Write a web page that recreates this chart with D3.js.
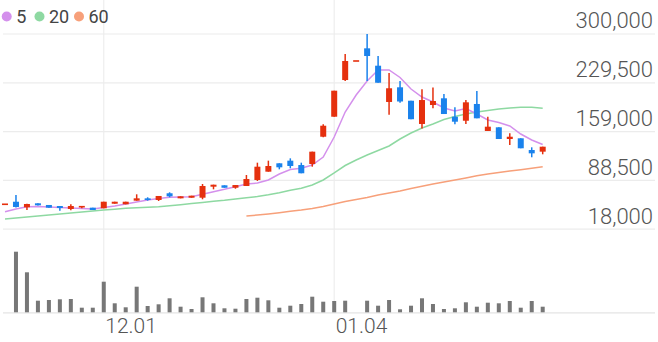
<!DOCTYPE html>
<html><head><meta charset="utf-8">
<script src="https://cdn.jsdelivr.net/npm/d3@7"></script>
<style>
html,body{margin:0;padding:0;background:#fff;}
svg{display:block;}
</style></head>
<body>
<svg id="chart" width="658" height="342"></svg>
<script>
const dates = ["11.20","11.21","11.22","11.23","11.24","11.27","11.28","11.29","11.30",
"12.01","12.04","12.05","12.06","12.07","12.08","12.11","12.12","12.13","12.14","12.15",
"12.18","12.19","12.20","12.21","12.22","12.26","12.27","12.28","01.02","01.03",
"01.04","01.05","01.08","01.09","01.10","01.11","01.12","01.15","01.16","01.17",
"01.18","01.19","01.22","01.23","01.24","01.25","01.26","01.29","01.30","01.31"];
const open  = [54000,57700,49600,55400,53000,51500,47200,48600,49100,48200,
54800,54000,59200,62600,60200,69900,62600,63500,63500,79400,
81400,77900,80400,89100,101100,113200,117000,110700,112200,151600,
180500,233500,261000,279300,254200,201800,223000,203600,170000,197400,
207100,180500,174700,198900,159900,165200,148300,149300,132400,130000];
const high  = [54000,67400,54600,55600,53000,51500,54000,50700,49100,57700,
57700,57700,68400,64100,66000,71300,65500,66400,83300,82300,
81400,81800,96300,114100,117000,113200,120400,114100,130000,169500,
218100,271100,261000,300000,268200,243700,232100,203600,220100,222700,
213300,194100,204600,217700,180500,165200,156500,149300,136300,137200];
const low   = [54000,49400,45700,52300,49100,44700,45300,48300,45700,48200,
54800,54000,59200,59200,58700,64100,62600,63500,61200,75600,
77900,76500,80400,87600,101100,104500,106000,98800,108300,150800,
180500,232100,261000,232100,229600,183400,200700,176900,163500,192700,
184400,169500,170000,178200,159900,148300,139600,134900,121900,126200];
const close = [54000,50100,54400,52500,49100,48600,51500,50500,45700,57700,
57700,57700,62600,60200,66000,65500,65500,66400,80400,82300,
77900,81800,90500,108300,109300,107400,109300,98800,130000,167500,
218100,261000,261000,268200,229600,221600,202500,176900,204600,203200,
184400,173300,201300,178200,166100,148300,151600,134900,127600,137200];
const volume = [0,606000,400000,116000,123000,130000,133000,46000,46000,306000,
90000,50000,256000,63000,80000,140000,56000,33000,150000,90000,
40000,36000,133000,146000,120000,46000,66000,83000,156000,106000,
113000,116000,0,116000,66000,123000,30000,66000,140000,83000,
33000,40000,100000,56000,96000,90000,113000,46000,113000,56000];
const ma5 = [43300,47200,50500,50800,50100,49400,48600,47900,47200,49400,
51500,54400,57300,60200,62400,64100,64500,64900,68400,72200,
75600,79400,83300,84700,89100,97700,104200,106000,110700,122300,
151200,187300,211900,232100,248000,248000,237200,220500,209000,201800,
193100,188800,192400,184400,175800,172100,167100,155500,146900,140400];
const ma20 = [32700,34200,35600,37100,38500,40000,41400,42800,44300,45700,
46900,48200,48900,49600,50500,51900,53400,55100,56600,58300,
59700,61600,63400,65200,67700,70700,74200,77100,81800,89100,
99200,110000,118000,125200,131700,138200,148300,157000,164200,170000,
176500,180800,184400,187300,189500,191600,193100,194100,194100,192700];
const ma60 = [null,null,null,null,null,null,null,null,null,null,
null,null,null,null,null,null,null,null,null,null,
null,null,37100,38500,40000,41800,43900,45700,47900,50800,
54400,58100,60900,63800,67400,70300,73200,76800,80000,83300,
86200,89100,92000,95100,97700,99900,102100,104000,106100,108300];
const yTicks = [18000, 88500, 159000, 229500, 300000];
const xTickLabels = ["12.01", "01.04"];
const legendLabels = ["5", "20", "60"];
const legendColors = ["#d490ec", "#8ed9a2", "#f7a07a"];

const svg = d3.select("#chart");
const x = d3.scalePoint().domain(dates).range([5, 542.7]);
const y = d3.scaleLinear().domain([18000, 300000]).range([229.2, 34]);
const yv = d3.scaleLinear().domain([0, 620000]).range([312.3, 250.3]);
const up = "#e5300e", down = "#1a82ec";
const font = "Roboto, 'Noto Sans', sans-serif";

// horizontal grid + y labels
const yAxis = d3.axisRight(y).tickValues(yTicks).tickSize(0).tickFormat(d3.format(","));
const gy = svg.append("g").attr("transform", "translate(653,0)").call(yAxis);
gy.select(".domain").remove();
gy.selectAll("text").attr("x", 0).attr("dy", "-0.28em").attr("text-anchor", "end")
  .attr("font-family", font).attr("font-weight", 300).attr("font-size", 22).attr("fill", "#555");
svg.insert("g", ":first-child").selectAll("line").data(yTicks).join("line")
  .attr("x1", 3).attr("x2", 655).attr("y1", d => y(d)).attr("y2", d => y(d))
  .attr("stroke", "#ececec").attr("stroke-width", 1.2);

// vertical grid + x labels
const xAxis = d3.axisBottom(x).tickValues(xTickLabels).tickSize(0);
const gx = svg.append("g").attr("transform", "translate(0,318)").call(xAxis);
gx.select(".domain").remove();
gx.selectAll("text").attr("y", 0).attr("dy", "0.71em").attr("text-anchor", "start").attr("x", 1)
  .attr("font-family", font).attr("font-weight", 300).attr("font-size", 21).attr("fill", "#555");
svg.insert("g", ":first-child").selectAll("line").data(xTickLabels).join("line")
  .attr("x1", d => x(d)).attr("x2", d => x(d)).attr("y1", 0).attr("y2", 312)
  .attr("stroke", "#eeeeee").attr("stroke-width", 1.2);

// volume baseline
svg.append("line").attr("x1", 3).attr("x2", 655).attr("y1", 312.8).attr("y2", 312.8)
  .attr("stroke", "#e4e4e4").attr("stroke-width", 1.2);

// volume bars
svg.append("g").selectAll("rect").data(dates).join("rect")
  .attr("x", d => x(d) - 2).attr("width", 4)
  .attr("y", (d, i) => yv(volume[i])).attr("height", (d, i) => yv(0) - yv(volume[i]))
  .attr("fill", "#777");

// MA lines
function maLine(arr, color) {
  const line = d3.line().defined(d => d[1] != null).x(d => x(d[0])).y(d => y(d[1]));
  svg.append("path").datum(dates.map((d, i) => [d, arr[i]]))
    .attr("d", line).attr("fill", "none").attr("stroke", color).attr("stroke-width", 1.5);
}
maLine(ma60, legendColors[2]);
maLine(ma20, legendColors[1]);
maLine(ma5, legendColors[0]);

// candles
const cg = svg.append("g").selectAll("g").data(dates).join("g");
cg.append("line")
  .attr("x1", d => x(d)).attr("x2", d => x(d))
  .attr("y1", (d, i) => y(high[i])).attr("y2", (d, i) => y(low[i]))
  .attr("stroke", (d, i) => close[i] >= open[i] ? up : down).attr("stroke-width", 1.5);
cg.append("rect")
  .attr("x", d => x(d) - 3).attr("width", 6)
  .attr("y", (d, i) => Math.min(y(open[i]), y(close[i])) - (Math.abs(y(open[i]) - y(close[i])) < 1.6 ? 0.8 : 0))
  .attr("height", (d, i) => Math.max(1.6, Math.abs(y(open[i]) - y(close[i]))))
  .attr("fill", (d, i) => close[i] >= open[i] ? up : down);

// legend
const lg = svg.append("g");
const lx = [6.7, 39.5, 79];
legendLabels.forEach((t, i) => {
  lg.append("circle").attr("cx", lx[i]).attr("cy", 16.5).attr("r", 5).attr("fill", legendColors[i]);
  lg.append("text").attr("x", lx[i] + 9.5).attr("y", 22.7).text(t)
    .attr("font-family", font).attr("font-size", 18).attr("fill", "#444");
});
</script>
</body></html>
